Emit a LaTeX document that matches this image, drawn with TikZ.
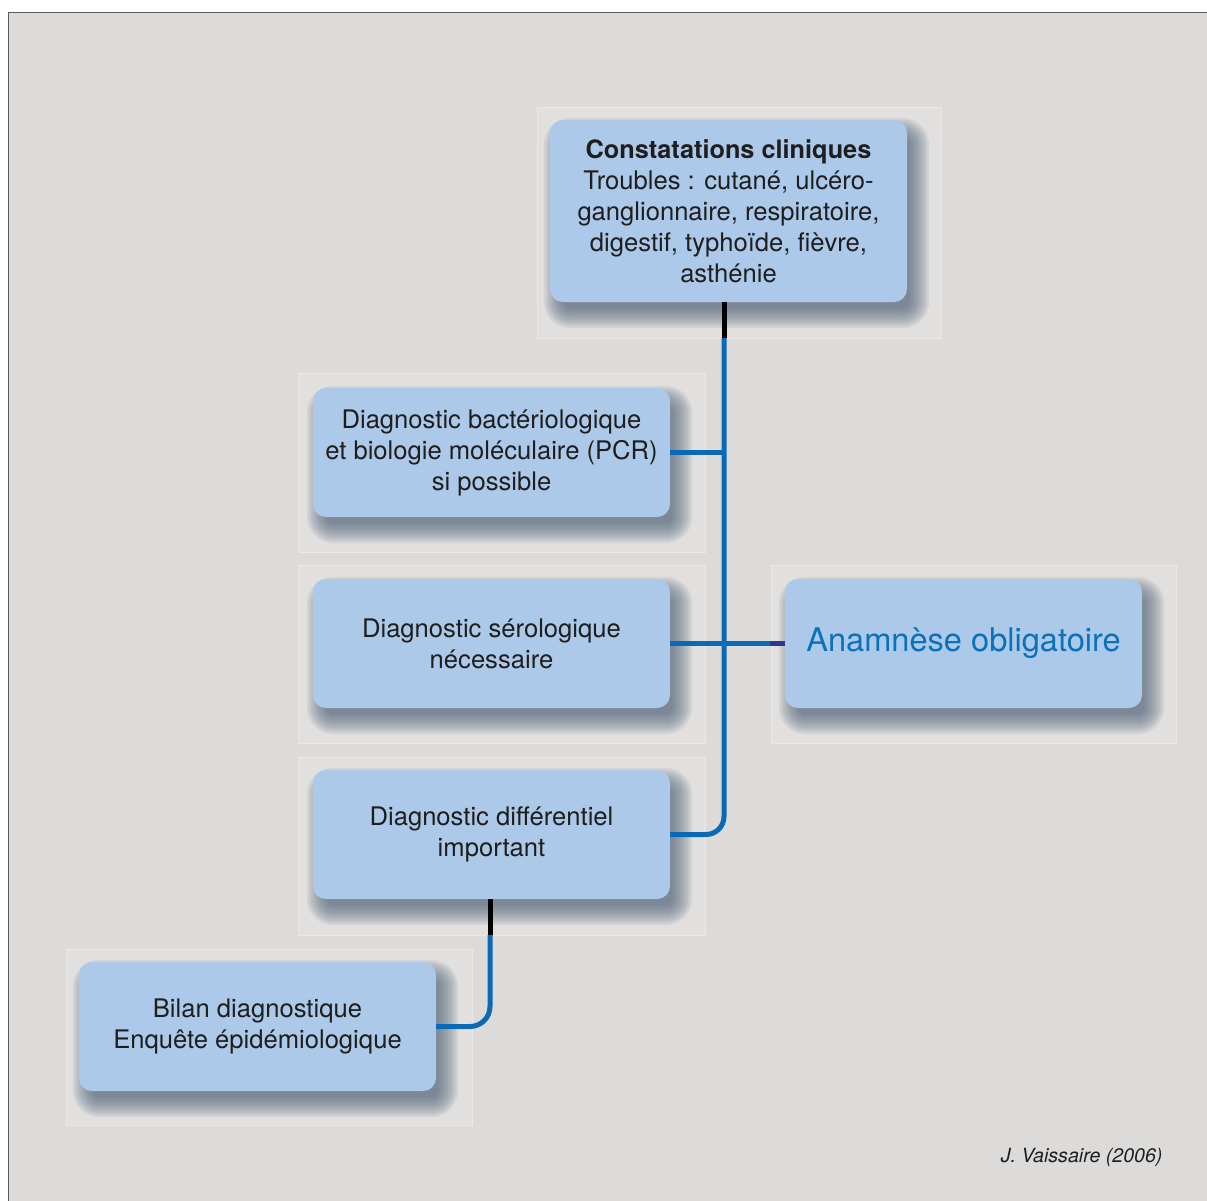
\documentclass[tikz,border=0pt]{standalone}
\usepackage{fontspec}
\setmainfont{TeX Gyre Heros}
\usetikzlibrary{calc}
\pgfdeclarelayer{panels}
\pgfdeclarelayer{shadows}
\pgfsetlayers{panels,shadows,main}
\definecolor{pagebg}{HTML}{DCDBDA}
\definecolor{panelbg}{HTML}{E1E0DF}
\definecolor{panelrule}{HTML}{EAE9E8}
\definecolor{framerule}{HTML}{5A5A5A}
\definecolor{boxfill}{HTML}{ADC9E9}
\definecolor{linkblue}{HTML}{0A6AB6}
\definecolor{headblue}{HTML}{0A72BA}
\definecolor{navylink}{HTML}{2B3990}
\definecolor{shadowc}{HTML}{4F6078}
\definecolor{txt}{HTML}{1E1E1E}
\tikzset{
  box/.style={draw=none, fill=boxfill, rounded corners=13pt,
    minimum width=357pt, minimum height=129pt, inner sep=0pt,
    align=center, text=txt, font=\fontsize{25.6}{31}\selectfont},
  link/.style={line width=5pt, draw=linkblue},
  stub/.style={line width=5pt, draw=black},
  panel/.style={fill=panelbg, draw=panelrule, line width=1pt},
}
% soft drop shadow under a named box, built from stacked translucent layers
\newcommand\boxshadow[1]{%
  \begin{pgfonlayer}{shadows}
  \foreach \r in {-6,-4,...,14}{
    \pgfmathsetmacro\rc{max(2,13+\r)}
    \fill[shadowc, opacity=0.095, rounded corners=\rc pt]
      ($(#1.south west)+(8-\r,12+\r)$) rectangle ($(#1.north east)+(8+\r,12-\r)$);
  }
  \end{pgfonlayer}}
\begin{document}
\begin{tikzpicture}[x=1pt,y=-1pt]
\useasboundingbox (0,0) rectangle (1207,1200);
\begin{pgfonlayer}{panels}
  \fill[white] (0,0) rectangle (1207,1200);
  \draw[draw=framerule, line width=1.5pt, fill=pagebg] (8.5,12.5) rectangle (1230,1230);
  \draw[panel] (537,107) rectangle (941,338);
  \draw[panel] (298,373) rectangle (705,552);
  \draw[panel] (298,565) rectangle (705,743);
  \draw[panel] (771,565) rectangle (1176,743);
  \draw[panel] (298,757) rectangle (705,935);
  \draw[panel] (66,949) rectangle (472,1125);
\end{pgfonlayer}

\node[box, minimum height=182pt] (top) at (728.5,211)
  {{\bfseries\fontsize{25.3}{31}\selectfont Constatations cliniques}\\Troubles : cutané, ulcéro-\\ganglionnaire, respiratoire,\\digestif, typhoïde, fièvre,\\asthénie};
\node[box] (bact) at (491.5,452.5)
  {Diagnostic bactériologique\\et biologie moléculaire (PCR)\\si possible};
\node[box] (sero) at (491.5,643.5)
  {Diagnostic sérologique\\nécessaire};
\node[box, text=headblue, font=\fontsize{32.6}{38}\selectfont] (anam) at (963.5,643.5)
  {Anamnèse obligatoire};
\node[box] (diff) at (491.5,834.5)
  {Diagnostic différentiel\\important};
\node[box] (bilan) at (257.5,1026.5)
  {Bilan diagnostique\\Enquête épidémiologique};

\boxshadow{top}
\boxshadow{bact}
\boxshadow{sero}
\boxshadow{anam}
\boxshadow{diff}
\boxshadow{bilan}

% main spine from the clinical findings down to the differential diagnosis
\coordinate (spine) at (724,338);
\draw[stub] (top.south -| spine) -- (spine);
\draw[link, rounded corners=18pt] (spine) |- (diff.east);
\draw[link] (bact.east) -- (bact.east -| spine);
\draw[link] (sero.east) -- (anam.west);
\draw[line width=5pt, draw=navylink] (anam.west) -- ++(-15,0);

% branch to the final assessment
\coordinate (drop) at (490,935);
\draw[stub] (diff.south -| drop) -- (drop);
\draw[link, rounded corners=20pt] (drop) |- (bilan.east);

\node[anchor=base east, font=\itshape\fontsize{19.6}{24}\selectfont, text=txt]
  (credit) at (1166,1162) {J. Vaissaire (2006)};
\end{tikzpicture}
\end{document}
